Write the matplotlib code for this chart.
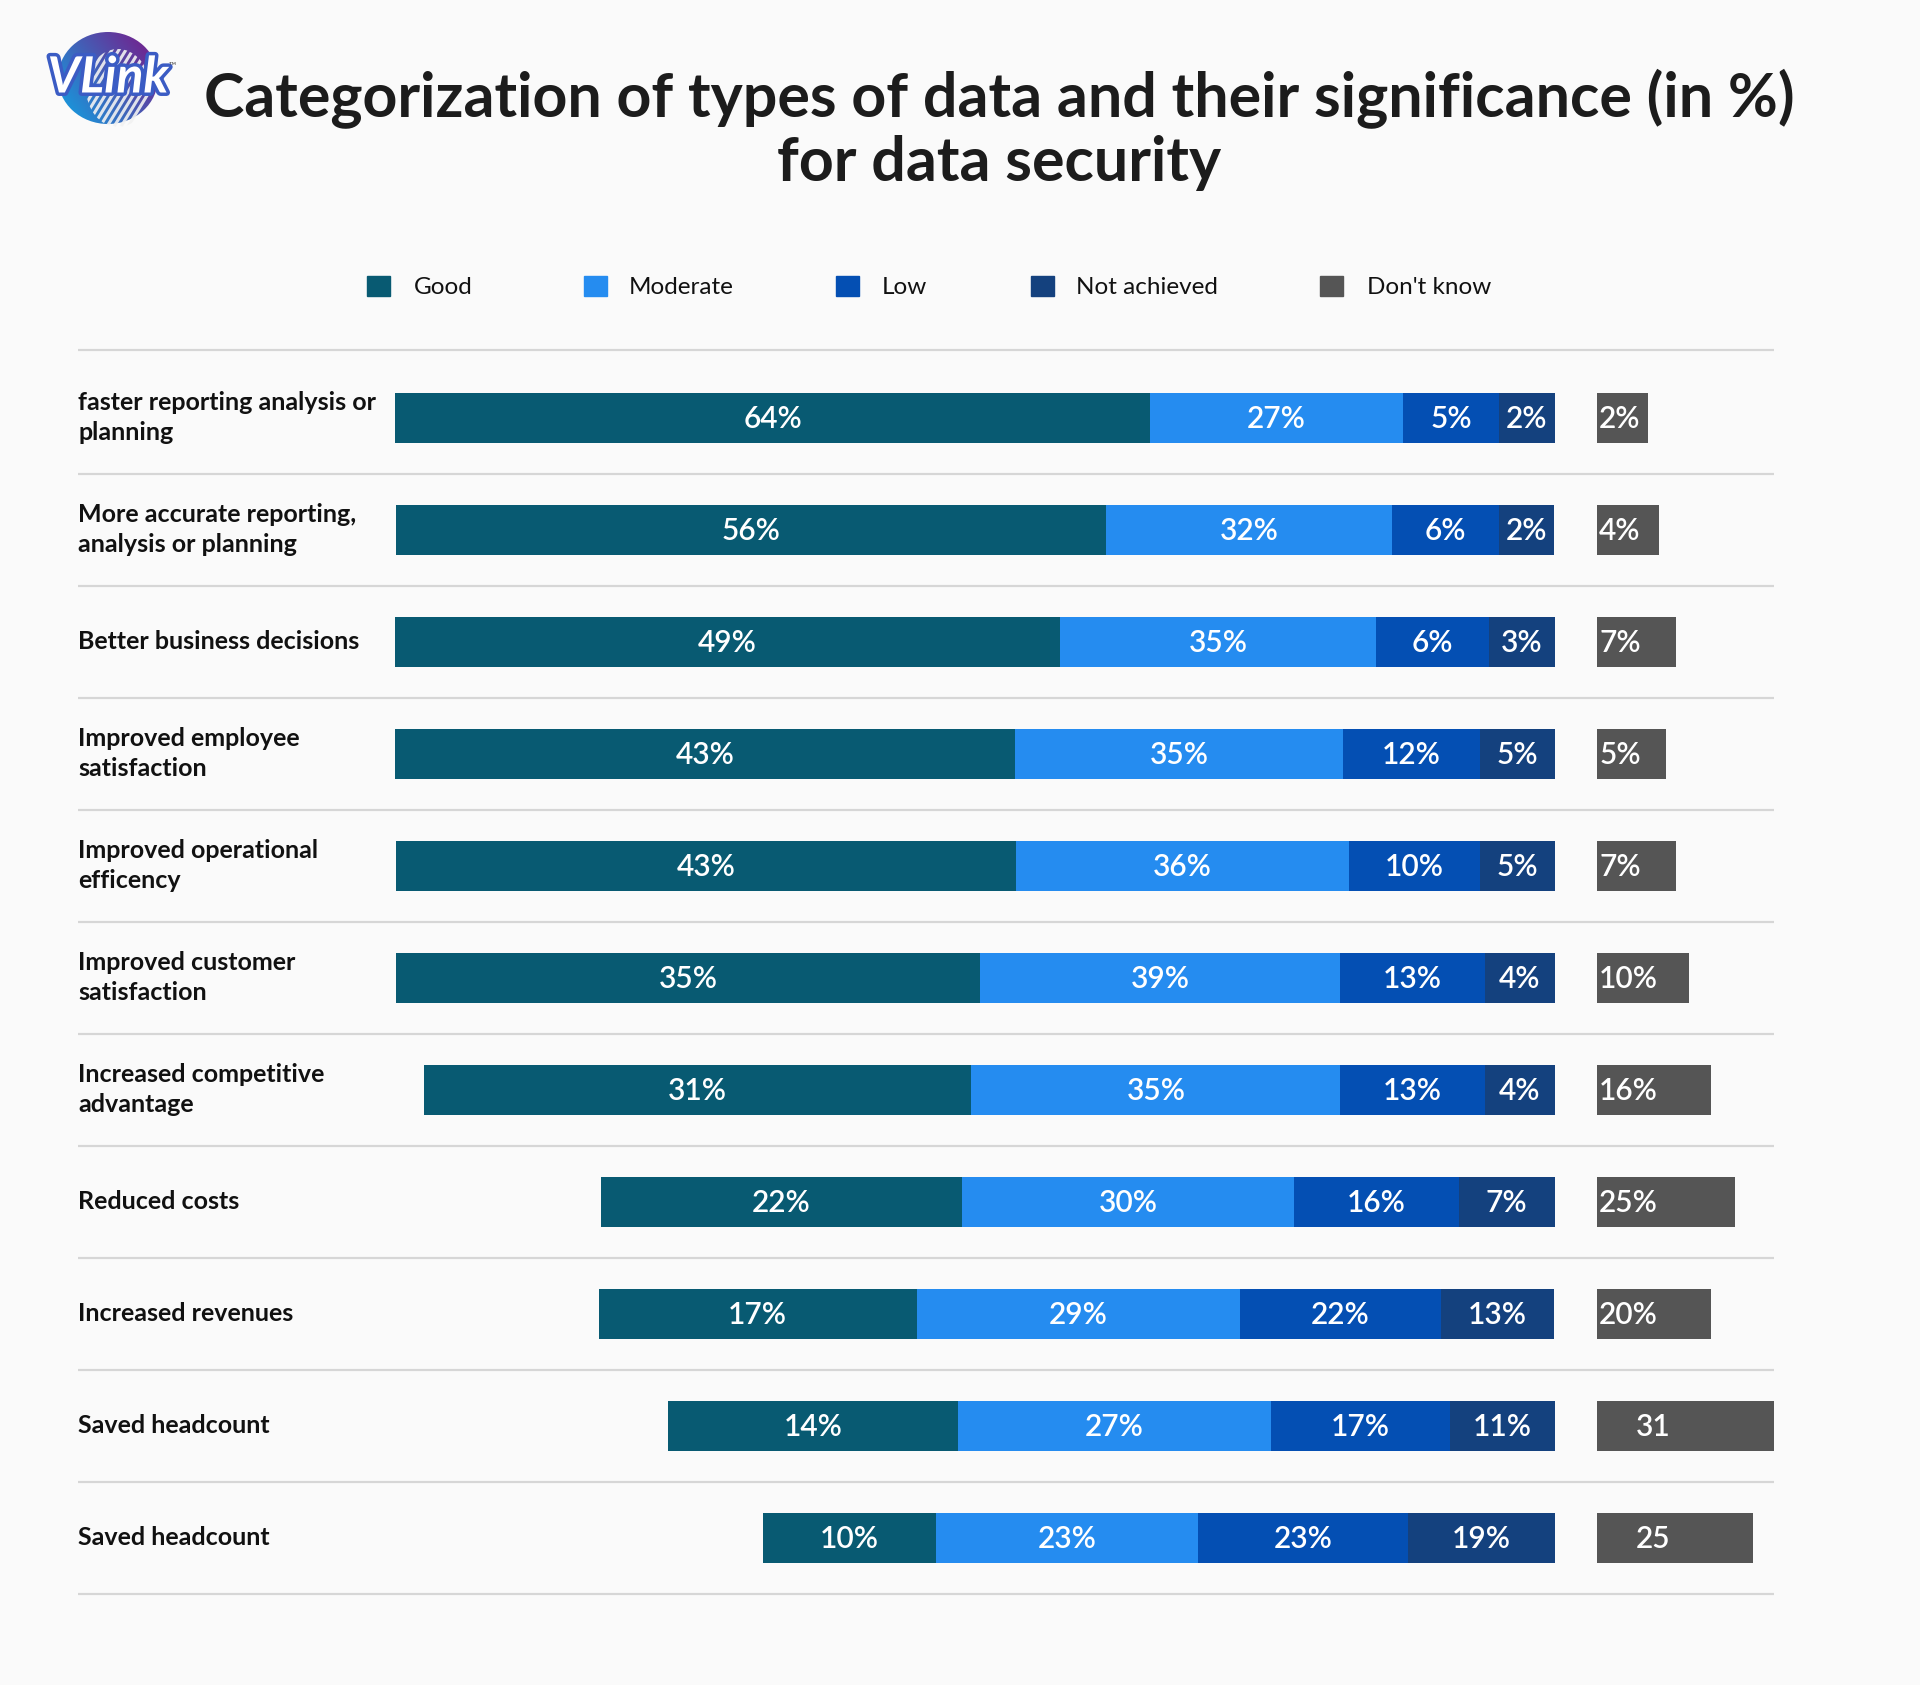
import numpy as np
import matplotlib
matplotlib.use("Agg")
import matplotlib.pyplot as plt
from matplotlib.patches import Ellipse, Rectangle
import matplotlib.patheffects as pe

# ---------------- data ----------------
categories = [
    "faster reporting analysis or\nplanning",
    "More accurate reporting,\nanalysis or planning",
    "Better business decisions",
    "Improved employee\nsatisfaction",
    "Improved operational\nefficency",
    "Improved customer\nsatisfaction",
    "Increased competitive\nadvantage",
    "Reduced costs",
    "Increased revenues",
    "Saved headcount",
    "Saved headcount",
]

series_names = ["Good", "Moderate", "Low", "Not achieved", "Don't know"]

# bar lengths as drawn in the picture (percentage-point scale)
good_len = [63.8, 60.0, 56.2, 52.4, 52.4, 49.3, 46.3, 30.5, 26.9, 24.5, 14.6]
moderate_len = [21.4, 24.2, 26.7, 27.7, 28.1, 30.5, 31.2, 28.1, 27.3, 26.4, 22.2]
low_len = [8.1, 9.0, 9.6, 11.6, 11.1, 12.2, 12.2, 13.9, 17.0, 15.2, 17.7]
not_achieved_len = [4.7, 4.7, 5.5, 6.3, 6.3, 5.9, 5.9, 8.1, 9.6, 8.8, 12.4]
dont_know_len = [4.3, 5.3, 6.7, 5.9, 6.7, 7.8, 9.7, 11.7, 9.7, 15.0, 13.2]

# value labels printed on the bars
good_lbl = ["64%", "56%", "49%", "43%", "43%", "35%", "31%", "22%", "17%", "14%", "10%"]
moderate_lbl = ["27%", "32%", "35%", "35%", "36%", "39%", "35%", "30%", "29%", "27%", "23%"]
low_lbl = ["5%", "6%", "6%", "12%", "10%", "13%", "13%", "16%", "22%", "17%", "23%"]
not_achieved_lbl = ["2%", "2%", "3%", "5%", "5%", "4%", "4%", "7%", "13%", "11%", "19%"]
dont_know_lbl = ["2%", "4%", "7%", "5%", "7%", "10%", "16%", "25%", "20%", "31", "25"]

colors = ["#085a72", "#258cf0", "#044fb3", "#14417e", "#555555"]

# ---------------- layout ----------------
W, H = 1920, 1685
PX = 11.83            # pixels per percentage point
RIGHT = 1554.5 / PX   # right end of stacked bars
DK_LEFT = 1596.7 / PX # left edge of "don't know" bars
ROW0 = 417.6          # pixel y of first row centre
ROWSTEP = 112.0       # pixel distance between rows
BAR_H = 50 / ROWSTEP
VAL_FS = 21.5

plt.rcParams['font.family'] = ['Lato', 'DejaVu Sans']

fig = plt.figure(figsize=(W / 100, H / 100), dpi=100, facecolor="#fafafa")
ax = fig.add_axes([0, 0, 1, 1])
ax.set_facecolor("#fafafa")
ax.set_xlim(0, W / PX)
ax.set_ylim((H - ROW0) / ROWSTEP, -ROW0 / ROWSTEP)
ax.axis("off")

n = len(categories)
y = np.arange(n)
segs = [good_len, moderate_len, low_len, not_achieved_len]
lbls = [good_lbl, moderate_lbl, low_lbl, not_achieved_lbl]
totals = np.sum(np.array(segs), axis=0)
left = RIGHT - totals
for vals, labs, col in zip(segs, lbls, colors[:4]):
    vals = np.array(vals)
    ax.barh(y, vals, left=left, height=BAR_H, color=col, edgecolor="none")
    for i in range(n):
        ax.text(left[i] + vals[i] / 2, y[i] + 0.01, labs[i], ha="center", va="center",
                color="white", fontsize=VAL_FS, fontweight="semibold")
    left = left + vals

dk = np.array(dont_know_len)
ax.barh(y, dk, left=DK_LEFT, height=BAR_H, color=colors[4], edgecolor="none")
for i in range(n):
    lab = dont_know_lbl[i]
    if lab.endswith("%"):
        ax.text(DK_LEFT + 0.2, y[i] + 0.01, lab, ha="left", va="center",
                color="white", fontsize=VAL_FS, fontweight="semibold")
    else:
        ax.text(DK_LEFT + 4.8, y[i] + 0.01, lab, ha="center", va="center",
                color="white", fontsize=VAL_FS, fontweight="semibold")

# category labels
for i, c in enumerate(categories):
    ax.text(78 / PX, y[i], c, ha="left", va="center", fontsize=18,
            fontweight="bold", color="#111111", linespacing=1.36)

# separators
seps = [-0.6] + [i + 0.5 for i in range(n)]
ax.hlines(seps, 78 / PX, 1774 / PX, color="#d6d6d6", lw=1.6)

# title
fig.text(999 / W, 1 - 117 / H,
         "Categorization of types of data and their significance (in %)",
         ha="center", va="baseline", fontsize=43.8, fontweight="bold", color="#1c1c1c")
fig.text(999 / W, 1 - 181 / H, "for data security",
         ha="center", va="baseline", fontsize=43.8, fontweight="bold", color="#1c1c1c")

# legend
leg_sq = [367, 584, 836, 1031, 1320]
leg_tx = [414, 629, 882, 1076, 1367]
for name, col, sx, tx in zip(series_names, colors, leg_sq, leg_tx):
    fig.patches.append(Rectangle((sx / W, 1 - 296 / H), 23 / W, 20 / H,
                                 transform=fig.transFigure, color=col))
    fig.text(tx / W, 1 - 288 / H, name, ha="left", va="center", fontsize=17.5,
             color="#111111")

# logo
lax = fig.add_axes([40 / W, 1 - 130 / H, 140 / W, 105 / H])
lax.set_xlim(0, 140)
lax.set_ylim(0, 105)
lax.axis("off")
gx, gy = np.meshgrid(np.linspace(0, 1, 100), np.linspace(0, 1, 100))
t = np.clip((gx * 0.7 + gy * 0.5), 0, 1)
c1 = np.array([0.05, 0.65, 0.90])
c2 = np.array([0.42, 0.17, 0.58])
img = c1[None, None, :] * (1 - t[..., None]) + c2[None, None, :] * t[..., None]
im = lax.imshow(img, extent=[18, 118, 5, 100], origin="lower", aspect="auto")
ell = Ellipse((68, 52), 100, 92, transform=lax.transData)
im.set_clip_path(ell)
for k in range(-6, 8):
    ln, = lax.plot([40 + k * 7, 95 + k * 7], [5, 95], color="#f2f2f2", lw=2.2, alpha=0.9)
    ln.set_clip_path(Ellipse((78, 42), 64, 78, transform=lax.transData))
lax.text(68, 52, "VLink", fontsize=36, fontstyle="italic", fontweight="bold",
         color="white", ha="center", va="center",
         path_effects=[pe.withStroke(linewidth=5, foreground="#3b5cc4")])
lax.text(132, 64, "™", fontsize=7, color="#555555", ha="center", va="center")

fig.savefig("out.png", dpi=100, facecolor=fig.get_facecolor())
